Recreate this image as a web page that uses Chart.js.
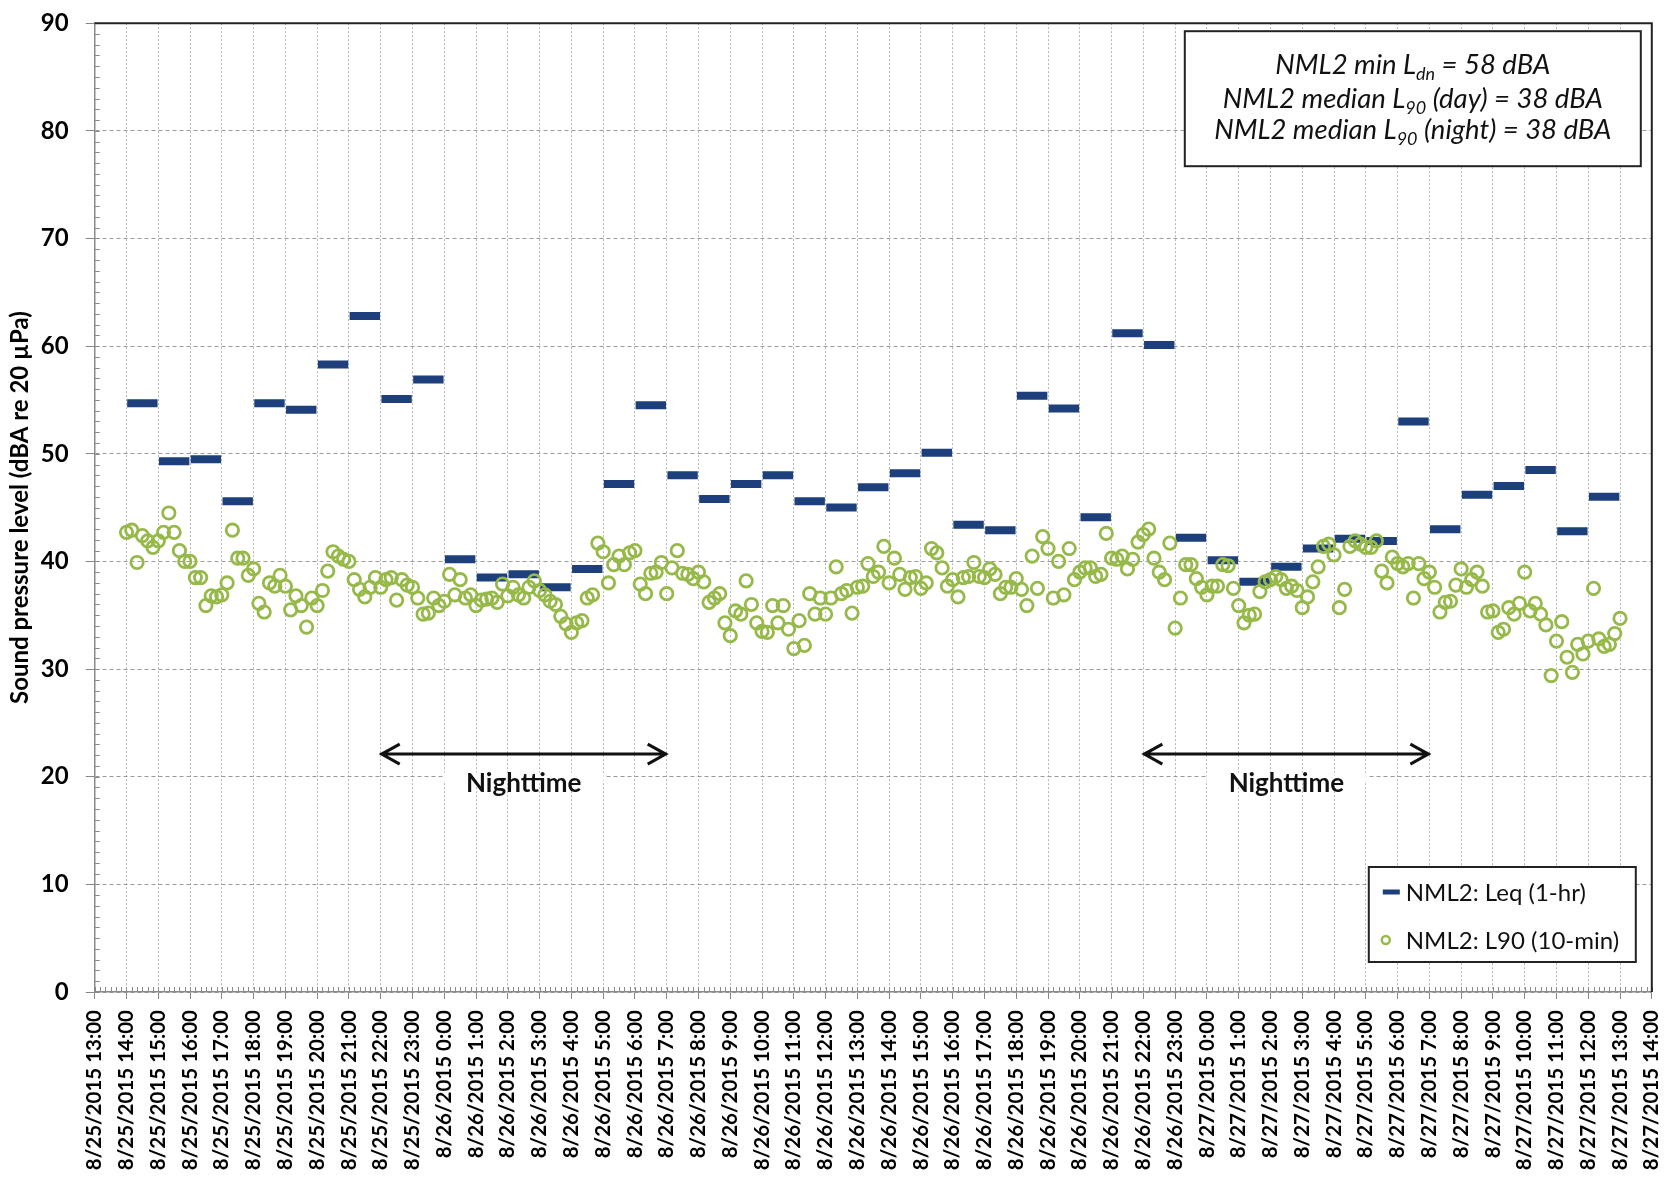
<!DOCTYPE html>
<html>
<head>
<meta charset="utf-8">
<script src="https://cdn.jsdelivr.net/npm/chart.js@4.4.0/dist/chart.umd.min.js"></script>
<style>
  html, body { margin: 0; padding: 0; background: #fff; }
  #wrap { width: 1675px; height: 1185px; }
</style>
</head>
<body>
<div id="wrap"><canvas id="nmlChart" width="1675" height="1185"></canvas></div>
<script>
// Eje X: una etiqueta por hora
const tickLabels = [
  '8/25/2015 13:00', '8/25/2015 14:00', '8/25/2015 15:00', '8/25/2015 16:00', '8/25/2015 17:00',
  '8/25/2015 18:00', '8/25/2015 19:00', '8/25/2015 20:00', '8/25/2015 21:00', '8/25/2015 22:00',
  '8/25/2015 23:00', '8/26/2015 0:00', '8/26/2015 1:00', '8/26/2015 2:00', '8/26/2015 3:00',
  '8/26/2015 4:00', '8/26/2015 5:00', '8/26/2015 6:00', '8/26/2015 7:00', '8/26/2015 8:00',
  '8/26/2015 9:00', '8/26/2015 10:00', '8/26/2015 11:00', '8/26/2015 12:00', '8/26/2015 13:00',
  '8/26/2015 14:00', '8/26/2015 15:00', '8/26/2015 16:00', '8/26/2015 17:00', '8/26/2015 18:00',
  '8/26/2015 19:00', '8/26/2015 20:00', '8/26/2015 21:00', '8/26/2015 22:00', '8/26/2015 23:00',
  '8/27/2015 0:00', '8/27/2015 1:00', '8/27/2015 2:00', '8/27/2015 3:00', '8/27/2015 4:00',
  '8/27/2015 5:00', '8/27/2015 6:00', '8/27/2015 7:00', '8/27/2015 8:00', '8/27/2015 9:00',
  '8/27/2015 10:00', '8/27/2015 11:00', '8/27/2015 12:00', '8/27/2015 13:00', '8/27/2015 14:00'
];

// Leq (1-hr), una barra por hora desde 8/25 14:00
const leqStart = '8/25/2015 14:00';
const leqValues = [
  54.7, 49.3, 49.5, 45.6, 54.7, 54.1, 58.3, 62.8, 55.1, 56.9,
  40.2, 38.5, 38.8, 37.6, 39.3, 47.2, 54.5, 48.0, 45.8, 47.2, 48.0, 45.6,
  45.0, 46.9, 48.2, 50.1, 43.4, 42.9, 55.4, 54.2, 44.1, 61.2, 60.1, 42.2,
  40.1, 38.1, 39.5, 41.2, 42.1, 41.9, 53.0, 43.0, 46.2, 47.0, 48.5, 42.8, 46.0
];

// L90 (10-min), cada 10 minutos desde 8/25 14:00
const l90Start = '8/25/2015 14:00';
const l90StepMinutes = 10;
const l90Values = [
  42.7, 42.9, 39.9, 42.4, 41.9, 41.3,  41.9, 42.7, 44.5, 42.7, 41.0, 40.0,
  40.0, 38.5, 38.5, 35.9, 36.8, 36.7,  36.9, 38.0, 42.9, 40.3, 40.3, 38.7,
  39.3, 36.1, 35.3, 38.0, 37.7, 38.7,  37.7, 35.5, 36.8, 35.9, 33.9, 36.6,
  35.9, 37.3, 39.1, 40.9, 40.5, 40.2,  40.0, 38.3, 37.4, 36.7, 37.6, 38.5,
  37.6, 38.3, 38.5, 36.4, 38.3, 37.8,  37.6, 36.6, 35.1, 35.2, 36.6, 35.9,
  36.3, 38.8, 36.9, 38.3, 36.6, 36.9,  35.9, 36.4, 36.5, 36.6, 36.2, 37.9,
  36.8, 37.6, 36.9, 36.6, 37.6, 38.2,  37.3, 36.9, 36.3, 36.0, 34.9, 34.2,
  33.4, 34.3, 34.5, 36.6, 36.9, 41.7,  40.9, 38.0, 39.7, 40.5, 39.7, 40.8,
  41.0, 37.9, 37.0, 38.9, 39.0, 39.9,  37.0, 39.4, 41.0, 38.9, 38.8, 38.4,
  39.0, 38.1, 36.2, 36.6, 37.0, 34.3,  33.1, 35.4, 35.1, 38.2, 36.0, 34.3,
  33.5, 33.4, 35.9, 34.3, 35.9, 33.7,  31.9, 34.5, 32.2, 37.0, 35.1, 36.6,
  35.1, 36.6, 39.5, 37.0, 37.3, 35.2,  37.6, 37.7, 39.8, 38.6, 39.0, 41.4,
  38.0, 40.3, 38.8, 37.4, 38.5, 38.6,  37.5, 38.0, 41.2, 40.8, 39.4, 37.7,
  38.3, 36.7, 38.5, 38.6, 39.9, 38.6,  38.5, 39.3, 38.8, 37.0, 37.6, 37.6,
  38.4, 37.4, 35.9, 40.5, 37.5, 42.3,  41.2, 36.6, 40.0, 36.9, 41.2, 38.3,
  39.0, 39.4, 39.4, 38.6, 38.8, 42.6,  40.3, 40.2, 40.5, 39.3, 40.2, 41.8,
  42.5, 43.0, 40.3, 39.0, 38.3, 41.7,  33.8, 36.6, 39.7, 39.7, 38.4, 37.6,
  36.9, 37.7, 37.7, 39.7, 39.6, 37.5,  35.9, 34.3, 35.0, 35.1, 37.2, 38.1,
  38.3, 38.6, 38.3, 37.5, 37.7, 37.3,  35.7, 36.7, 38.1, 39.5, 41.4, 41.6,
  40.6, 35.7, 37.4, 41.4, 41.9, 41.6,  41.3, 41.3, 41.9, 39.1, 38.0, 40.4,
  39.8, 39.5, 39.8, 36.6, 39.8, 38.4,  39.0, 37.6, 35.3, 36.2, 36.3, 37.8,
  39.3, 37.6, 38.3, 39.0, 37.7, 35.3,  35.4, 33.4, 33.7, 35.7, 35.1, 36.1,
  39.0, 35.4, 36.1, 35.1, 34.1, 29.4,  32.6, 34.4, 31.1, 29.7, 32.3, 31.4,
  32.6, 37.5, 32.8, 32.1, 32.3, 33.3,  34.7
];

// Periodos nocturnos
const nightFrom = ['8/25/2015 22:00', '8/26/2015 22:00'];
const nightTo = ['8/26/2015 7:00', '8/27/2015 7:00'];

// Texto del recuadro (texto, subíndice)
const noteLines = [
  [['NML2 min L', false], ['dn', true], [' = 58 dBA', false]],
  [['NML2 median L', false], ['90', true], [' (day) = 38 dBA', false]],
  [['NML2 median L', false], ['90', true], [' (night) = 38 dBA', false]]
];

const hourOf = (label) => tickLabels.indexOf(label);
const leqPoints = leqValues.map((v, i) => ({ x: hourOf(leqStart) + i + 0.5, y: v }));
const l90Points = l90Values.map((v, i) => ({ x: hourOf(l90Start) + i * l90StepMinutes / 60, y: v }));

const FONT = 'Lato';

// Decoración: ticks menores, bordes, flechas, recuadro y leyenda
const decor = {
    id: 'decor',
    afterDraw(chart) {
        const { ctx, chartArea: a, scales: { x, y } } = chart;
        ctx.save();

        // ticks menores
        ctx.strokeStyle = '#8a8a8a';
        ctx.lineWidth = 1;
        ctx.beginPath();
        for (let v = y.min; v <= y.max; v++) {
            const py = Math.round(y.getPixelForValue(v)) + 0.5;
            ctx.moveTo(a.left, py); ctx.lineTo(a.left + 5, py);
        }
        for (let m = 0; m <= (x.max - x.min) * 6; m++) {
            const px = Math.round(x.getPixelForValue(x.min + m / 6)) + 0.5;
            ctx.moveTo(px, a.bottom); ctx.lineTo(px, a.bottom - 5);
        }
        ctx.stroke();

        // borde superior y derecho
        ctx.strokeStyle = '#222';
        ctx.lineWidth = 2;
        ctx.beginPath();
        ctx.moveTo(a.left, a.top); ctx.lineTo(a.right, a.top); ctx.lineTo(a.right, a.bottom);
        ctx.stroke();

        // flechas de nighttime
        nightFrom.forEach((from, i) => {
            const x1 = x.getPixelForValue(hourOf(from));
            const x2 = x.getPixelForValue(hourOf(nightTo[i]));
            const ya = y.getPixelForValue(22.1);
            const yt = y.getPixelForValue(19.4);
            const cx = (x1 + x2) / 2;
            ctx.fillStyle = '#fff';
            ctx.fillRect(cx - 80, y.getPixelForValue(20) - 4, 160, 8);
            ctx.strokeStyle = '#111';
            ctx.lineWidth = 3;
            ctx.beginPath();
            ctx.moveTo(x1, ya); ctx.lineTo(x2, ya);
            ctx.moveTo(x1 + 19, ya - 10); ctx.lineTo(x1 + 1, ya); ctx.lineTo(x1 + 19, ya + 10);
            ctx.moveTo(x2 - 19, ya - 10); ctx.lineTo(x2 - 1, ya); ctx.lineTo(x2 - 19, ya + 10);
            ctx.stroke();
            ctx.fillStyle = '#111';
            ctx.font = `bold 26px ${FONT}`;
            ctx.textAlign = 'center';
            ctx.textBaseline = 'middle';
            ctx.fillText('Nighttime', cx, yt);
        });

        // recuadro con medianas
        const bw = 456, bh = 135;
        const bx = a.right - 11 - bw, by = a.top + 8;
        ctx.fillStyle = '#fff';
        ctx.fillRect(bx, by, bw, bh);
        ctx.strokeStyle = '#222';
        ctx.lineWidth = 2;
        ctx.strokeRect(bx, by, bw, bh);
        ctx.fillStyle = '#111';
        ctx.textBaseline = 'alphabetic';
        ctx.textAlign = 'left';
        const mainFont = `italic 27.5px ${FONT}`, subFont = `italic 18px ${FONT}`;
        const baselines = [43, 77, 108];
        noteLines.forEach((parts, i) => {
            let total = 0;
            parts.forEach(([t, sub]) => { ctx.font = sub ? subFont : mainFont; total += ctx.measureText(t).width; });
            let tx = bx + bw / 2 - total / 2;
            parts.forEach(([t, sub]) => {
                ctx.font = sub ? subFont : mainFont;
                ctx.fillText(t, tx, by + baselines[i] + (sub ? 6 : 0));
                tx += ctx.measureText(t).width;
            });
        });

        // leyenda
        const lw = 267, lh = 95;
        const lx = a.right - 16 - lw, ly = a.bottom - 30 - lh;
        ctx.fillStyle = '#fff';
        ctx.fillRect(lx, ly, lw, lh);
        ctx.strokeStyle = '#222';
        ctx.lineWidth = 2;
        ctx.strokeRect(lx, ly, lw, lh);
        ctx.font = `24px ${FONT}`;
        chart.data.datasets.forEach((ds, i) => {
            const my = ly + 25 + i * 48;
            ctx.strokeStyle = ds.pointBorderColor;
            if (ds.pointStyle === 'line') {
                ctx.lineWidth = 5;
                ctx.beginPath(); ctx.moveTo(lx + 14, my); ctx.lineTo(lx + 31, my); ctx.stroke();
            } else {
                ctx.lineWidth = 2.4;
                ctx.beginPath(); ctx.arc(lx + 17, my, 4, 0, Math.PI * 2); ctx.stroke();
            }
            ctx.fillStyle = '#111';
            ctx.textBaseline = 'middle';
            ctx.fillText(ds.label, lx + 37, my + 1);
        });

        ctx.restore();
    }
};

const ctxNml = document.getElementById('nmlChart').getContext('2d');
const nmlChart = new Chart(ctxNml, {
    type: 'scatter',
    data: {
        datasets: [{
            label: 'NML2: Leq (1-hr)',
            data: leqPoints,
            pointStyle: 'line',
            pointRadius: 15.2,
            pointBorderWidth: 8,
            pointBorderColor: '#1d3f7b',
            pointBackgroundColor: '#1d3f7b',
            order: 2
        }, {
            label: 'NML2: L90 (10-min)',
            data: l90Points,
            pointStyle: 'circle',
            pointRadius: 6.2,
            pointBorderWidth: 2.8,
            pointBorderColor: '#96b94a',
            pointBackgroundColor: 'rgba(255,255,255,0)',
            order: 1
        }]
    },
    options: {
        responsive: false,
        animation: false,
        events: [],
        layout: { padding: { top: 18, right: 16.3, left: 0, bottom: 0 } },
        plugins: { legend: { display: false }, tooltip: { enabled: false } },
        scales: {
            x: {
                type: 'linear',
                min: 0,
                max: tickLabels.length - 1,
                afterBuildTicks: (s) => { s.ticks = tickLabels.map((_, i) => ({ value: i })); },
                afterFit: (s) => { s.height = 193; s.paddingLeft = 0; s.paddingRight = 0; },
                ticks: {
                    autoSkip: false, minRotation: 90, maxRotation: 90, padding: 11, color: '#000',
                    font: { family: FONT, weight: 'bold', size: 20.5 },
                    callback: (v) => tickLabels[v]
                },
                grid: { color: '#b5b5b5', lineWidth: 1, tickLength: 7, tickColor: '#888' },
                border: { color: '#8a8a8a', width: 1.5, dash: [2, 2] }
            },
            y: {
                min: 0,
                max: 90,
                afterFit: (s) => { s.width = 94.7; s.paddingTop = 0; s.paddingBottom = 0; },
                ticks: { stepSize: 10, padding: 17, color: '#000', font: { family: FONT, weight: 'bold', size: 24 } },
                grid: { color: '#9a9a9a', lineWidth: 1, tickLength: 9, tickColor: '#888' },
                border: { color: '#8a8a8a', width: 1.5, dash: [4, 3] },
                title: {
                    display: true,
                    text: 'Sound pressure level (dBA re 20 µPa)',
                    color: '#000',
                    font: { family: FONT, weight: 'bold', size: 24 },
                    padding: { top: 6, bottom: 0 }
                }
            }
        }
    },
    plugins: [decor]
});
</script>
</body>
</html>
